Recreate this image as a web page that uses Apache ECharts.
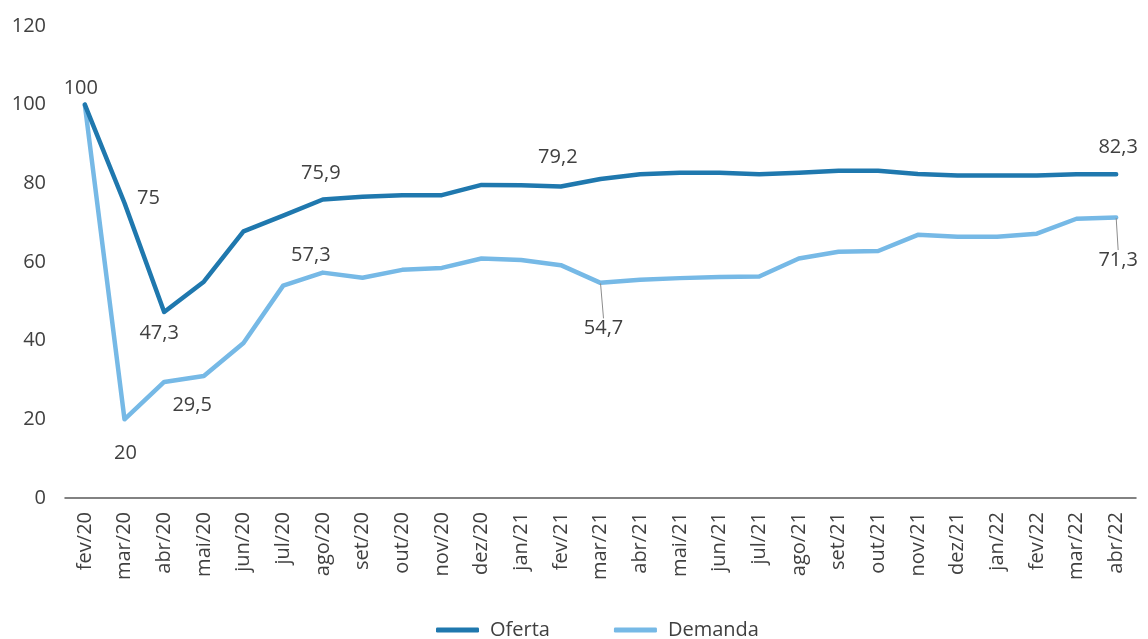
<!DOCTYPE html>
<html>
<head>
<meta charset="utf-8">
<script src="https://cdn.jsdelivr.net/npm/echarts@6/dist/echarts.min.js"></script>
<style>
  html, body { margin: 0; padding: 0; background: #ffffff; }
  #chart { width: 1148px; height: 639px; }
</style>
</head>
<body>
<div id="chart"></div>
<script>
// Monthly index (fev/20 = 100)
const months = ['fev/20','mar/20','abr/20','mai/20','jun/20','jul/20','ago/20','set/20','out/20','nov/20','dez/20','jan/21','fev/21','mar/21','abr/21','mai/21','jun/21','jul/21','ago/21','set/21','out/21','nov/21','dez/21','jan/22','fev/22','mar/22','abr/22'];
const oferta  = [100, 75, 47.3, 55, 67.8, 71.8, 75.9, 76.6, 77, 77, 79.6, 79.5, 79.2, 81.1, 82.3, 82.7, 82.7, 82.3, 82.7, 83.2, 83.2, 82.4, 82, 82, 82, 82.3, 82.3];
const demanda = [100, 20, 29.5, 31, 39.4, 54, 57.3, 56, 58, 58.5, 60.9, 60.5, 59.2, 54.7, 55.5, 55.9, 56.2, 56.3, 60.9, 62.6, 62.8, 66.9, 66.4, 66.4, 67.2, 71, 71.3];
const yTicks = [0, 20, 40, 60, 80, 100, 120];

// Points that carry a value label: side, gap and shift of each label
const ofertaLabels = {
  0:  { position: 'top', distance: 6, dx: -4, dy: 0 },
  1:  { position: 'right', distance: 12, dx: 0, dy: -5 },
  2:  { position: 'bottom', distance: 11, dx: -5, dy: 0 },
  6:  { position: 'top', distance: 16, dx: -2, dy: 0 },
  12: { position: 'top', distance: 19, dx: -3, dy: 0 },
  26: { position: 'top', distance: 16, dx: 2, dy: 0 }
};
const demandaLabels = {
  1:  { position: 'bottom', distance: 23, dx: 1, dy: 0 },
  2:  { position: 'bottom', distance: 13, dx: 28, dy: 0 },
  6:  { position: 'top', distance: 7, dx: -12, dy: 0 },
  13: { position: 'bottom', distance: 5, dx: 3, dy: 30, leader: true },
  26: { position: 'bottom', distance: 5, dx: 2, dy: 27, leader: true }
};

const FONT = '"Open Sans", "Noto Sans", sans-serif';
const TXT = '#404040';
const fmt = v => String(v).replace('.', ',');

function buildData(values, labels) {
  return values.map((v, i) => {
    const l = labels[i];
    if (!l) return { value: v, label: { show: false } };
    return {
      value: v,
      label: {
        show: true, position: l.position, distance: l.distance,
        formatter: p => fmt(p.value), color: TXT, fontSize: 20, fontFamily: FONT
      },
      labelLine: { show: !!l.leader, lineStyle: { color: '#8c8c8c', width: 1 } }
    };
  });
}

function layoutFor(labels) {
  return params => {
    const l = labels[params.dataIndex];
    if (l) return { dx: l.dx, dy: l.dy };
    return {};
  };
}

const chart = echarts.init(document.getElementById('chart'), null, { renderer: 'canvas' });
chart.setOption({
  animation: false,
  textStyle: { fontFamily: FONT },
  grid: { left: 65, right: 12, top: 26, bottom: 141 },
  legend: {
    left: 431,
    top: 615,
    itemGap: 64,
    itemWidth: 43,
    itemHeight: 5,
    icon: 'roundRect',
    textStyle: { color: TXT, fontSize: 20, fontFamily: FONT, padding: [0, 0, 0, 6] },
    data: ['Oferta', 'Demanda']
  },
  xAxis: {
    type: 'category',
    data: months,
    boundaryGap: true,
    axisLine: { show: true, lineStyle: { color: '#595959', width: 1.5 } },
    axisTick: { show: false },
    axisLabel: { rotate: 90, margin: 14, color: TXT, fontSize: 20, fontFamily: FONT, interval: 0 }
  },
  yAxis: {
    type: 'value',
    min: yTicks[0],
    max: yTicks[yTicks.length - 1],
    interval: 20,
    axisLine: { show: false },
    axisTick: { show: false },
    splitLine: { show: false },
    axisLabel: { margin: 19, color: TXT, fontSize: 20, fontFamily: FONT }
  },
  series: [
    {
      name: 'Oferta',
      type: 'line',
      data: buildData(oferta, ofertaLabels),
      symbol: 'circle',
      symbolSize: 1,
      showSymbol: true,
      itemStyle: { color: '#1f78ae' },
      lineStyle: { color: '#1f78ae', width: 4.5, cap: 'round', join: 'round' },
      labelLayout: layoutFor(ofertaLabels),
      z: 3
    },
    {
      name: 'Demanda',
      type: 'line',
      data: buildData(demanda, demandaLabels),
      symbol: 'circle',
      symbolSize: 1,
      showSymbol: true,
      itemStyle: { color: '#76b9e6' },
      lineStyle: { color: '#76b9e6', width: 4.5, cap: 'round', join: 'round' },
      labelLayout: layoutFor(demandaLabels),
      z: 2
    }
  ]
});
</script>
</body>
</html>
